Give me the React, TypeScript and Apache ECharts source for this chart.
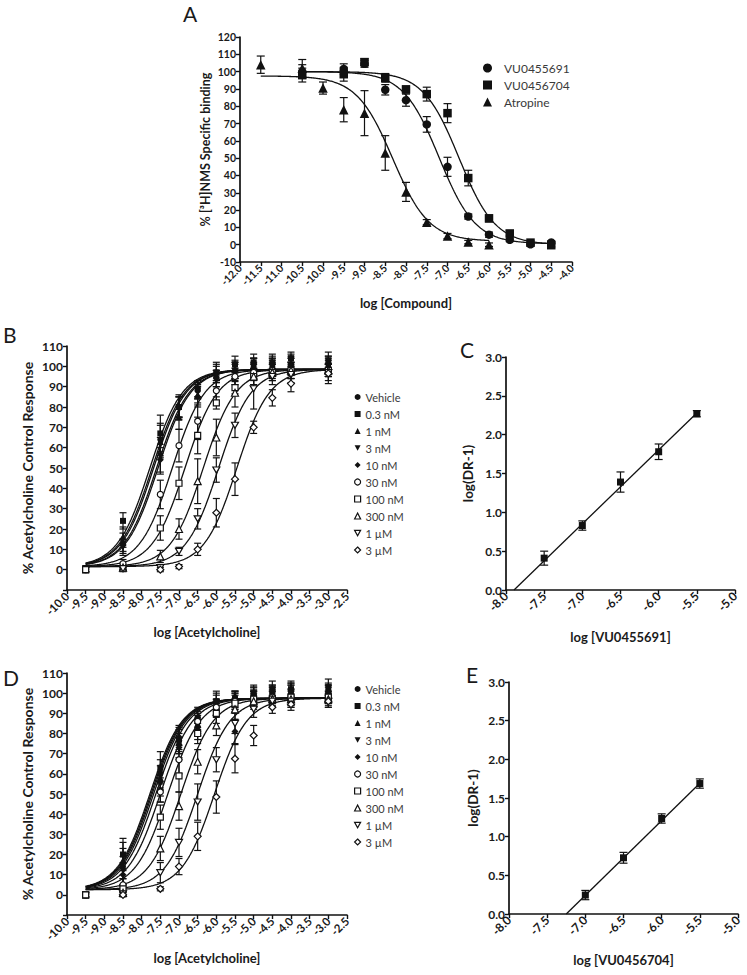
import React, { useEffect, useRef } from 'react';
import * as echarts from 'echarts';

// ---------------- Panel A: [3H]NMS binding ----------------
const aSeriesNames = ['VU0455691', 'VU0456704', 'Atropine'];
const aCompoundX = [-10.5, -9.5, -9.0, -8.5, -8.0, -7.5, -7.0, -6.5, -6.0, -5.5, -5.0, -4.5];
const a691Y = [100, 101.5, 104.5, 89.5, 83.5, 69.5, 45, 16.3, 5.8, 2.8, 0.2, 1.3];
const a691Err = [4, 3, 2, 3, 3.5, 4.5, 5.5, 1.5, 1.5, 1, 1, 1];
const a704Y = [98, 98.5, 105.5, 96.4, 89.7, 87, 76, 38.5, 15.2, 6.5, 1.2, -0.3];
const a704Err = [4, 4, 2, 2.5, 2, 4, 5.5, 4.5, 2, 1.5, 1, 1];
const aAtropineX = [-11.5, -10.5, -10.0, -9.5, -9.0, -8.5, -8.0, -7.5, -7.0, -6.5, -6.0];
const aAtropineY = [104, 102, 90.5, 78, 76, 53, 30.5, 13, 5, 1.5, 0];
const aAtropineErr = [5, 5, 3.5, 7, 13, 10, 5.5, 1.5, 1.5, 1, 1];
// fitted curves: bottom, top, logIC50, hill, range
const aFitBottom = [0.5, 0, 2];
const aFitTop = [100, 100, 97.5];
const aFitLogIC50 = [-7.2, -6.72, -8.32];
const aFitHill = [-1, -1, -1];
const aFitStart = [-10.5, -10.5, -11.5];
const aFitEnd = [-4.5, -4.5, -6.0];

// ---------------- Panels B & D: ACh CRCs ----------------
const concLabels = ['Vehicle', '0.3 nM', '1 nM', '3 nM', '10 nM', '30 nM', '100 nM', '300 nM', '1 µM', '3 µM'];
const xAch = [-9.5, -8.5, -7.5, -7.0, -6.5, -6.0, -5.5, -5.0, -4.5, -4.0, -3.0];

const bResponse = [
  [0.5, 13, 64, 80, 88, 97, 98, 100, 100, 101, 101],
  [0, 24, 67, 80, 89, 97, 101, 102, 102, 104, 103],
  [0, 16, 63, 75, 86, 96, 99, 99, 100, 102, 101],
  [0, 11, 56, 80, 88, 94, 98, 100, 100, 100, 100],
  [0, 12, 54, 80, 85, 94, 97, 98, 99, 100, 99],
  [0, 3, 37, 61, 73, 88, 95, 97, 98, 98, 98],
  [0, 0.5, 20.5, 42.5, 66, 82, 89.5, 95, 97, 98, 98],
  [null, 1, 6.5, 20, 43.5, 65, 87, 95, 97, 98, 98],
  [null, 0.5, 1, 9, 25, 49, 71, 89, 95, 96, 97],
  [null, null, 0, 1.5, 10, 28, 44.5, 70, 84.5, 91.5, 96.5],
];
const bSem = [
  [1.5, 5, 8, 5, 4, 4, 4, 4, 4, 4, 4],
  [1.5, 4, 9, 6, 4, 5, 4, 4, 4, 3, 4],
  [1, 5, 8, 6, 5, 4, 4, 5, 4, 4, 4],
  [1, 4, 9, 5, 4, 4, 4, 4, 5, 4, 4],
  [1, 3, 6, 5, 5, 4, 4, 4, 4, 4, 4],
  [1, 2, 7, 8, 9, 5, 4, 4, 4, 4, 3],
  [1, 1, 6, 8, 9, 3, 3, 4, 4, 4, 3],
  [0, 1, 3, 5, 11, 9, 7, 4, 4, 4, 3],
  [0, 1, 1, 2, 5, 6, 6, 10, 4, 4, 4],
  [0, 0, 1, 1, 3, 7, 8, 3, 4, 4, 5],
];
const bLogEC50 = [-7.72, -7.78, -7.68, -7.6, -7.56, -7.18, -6.84, -6.35, -5.94, -5.45];
const bFitBottom = 1.5;
const bFitTop = 98.5;

const dResponse = [
  [0, 14, 60, 78, 88, 96, 98, 99, 100, 101, 101],
  [0, 20, 63, 77, 87, 96, 97, 100, 102, 102, 103],
  [0, 17, 58, 76, 85, 94, 97, 99, 100, 101, 100],
  [0, 12, 55, 75, 84, 93, 96, 98, 99, 100, 99],
  [0, 10, 52, 73, 82, 92, 81, 97, 99, 100, 100],
  [0, 5, 51, 67, 86, 93, 96, 97, 98, 98, 98],
  [0, 3, 38.5, 59, 80, 90, 95, 97, 97, 98, 98],
  [null, 1, 23, 44, 66, 84, 92, 96, 97, 97, 97],
  [null, 0.5, 11, 26, 46, 67, 85, 92, 96, 96, 96],
  [null, 0, 3, 14, 29, 48.5, 67.5, 79, 93, 94.5, 96],
];
const dSem = [
  [1.5, 9, 7, 6, 5, 4, 3, 4, 4, 4, 4],
  [1.5, 8, 8, 6, 5, 5, 4, 4, 4, 4, 4],
  [1, 9, 6, 6, 5, 5, 4, 4, 4, 4, 4],
  [1, 7, 6, 5, 5, 4, 4, 4, 4, 4, 4],
  [1, 6, 6, 5, 5, 4, 6, 4, 4, 4, 4],
  [1, 3, 5, 7, 5, 4, 4, 4, 4, 4, 3],
  [1, 2, 6, 8, 5, 5, 4, 4, 4, 4, 3],
  [0, 1, 6, 7, 6, 5, 5, 4, 4, 4, 3],
  [0, 1, 5, 7, 9, 6, 5, 4, 3, 3, 3],
  [0, 1, 1, 4, 7, 8, 7, 5, 3, 3, 3],
];
const dLogEC50 = [-7.75, -7.78, -7.72, -7.68, -7.62, -7.5, -7.3, -6.95, -6.5, -6.05];
const dFitBottom = 2.5;
const dFitTop = 97.5;

// ---------------- Panels C & E: Schild plots ----------------
const cX = [-7.5, -7.0, -6.5, -6.0, -5.5];
const cY = [0.41, 0.83, 1.39, 1.78, 2.27];
const cErr = [0.09, 0.06, 0.13, 0.1, 0.04];
const cLineX = [-7.895, -5.5];
const cLineY = [0, 2.28];
const eX = [-7.0, -6.5, -6.0, -5.5];
const eY = [0.245, 0.727, 1.235, 1.687];
const eErr = [0.06, 0.07, 0.06, 0.06];
const eLineX = [-7.25, -5.5];
const eLineY = [0, 1.69];

// ---------------- styling ----------------
const INK = '#111';
const TXT = '#1a1a1a';
const FONT = 'Lato, "Open Sans", sans-serif';
const DOWN_TRI = 'path://M0,0 L10,0 L5,9 Z';
const achSymbols = ['circle', 'rect', 'triangle', DOWN_TRI, 'diamond', 'circle', 'rect', 'triangle', DOWN_TRI, 'diamond'];
const achFilled = [true, true, true, true, true, false, false, false, false, false];
const aSymbols = ['circle', 'rect', 'triangle'];

function sampleFit(bottom: number, top: number, logEC50: number, hill: number, x0: number, x1: number) {
  const pts: number[][] = [];
  const n = Math.round((x1 - x0) / 0.02);
  for (let i = 0; i <= n; i++) {
    const x = x0 + ((x1 - x0) * i) / n;
    pts.push([x, bottom + (top - bottom) / (1 + Math.pow(10, (logEC50 - x) * hill))]);
  }
  return pts;
}

function pairs(xs: number[], ys: (number | null)[]) {
  const out: number[][] = [];
  xs.forEach((x, i) => { if (ys[i] != null) out.push([x, ys[i] as number]); });
  return out;
}
function errRows(xs: number[], ys: (number | null)[], es: number[]) {
  const out: number[][] = [];
  xs.forEach((x, i) => {
    const y = ys[i];
    if (y != null && es[i] > 0) out.push([x, y, y - es[i], y + es[i]]);
  });
  return out;
}

function errSeries(name: string, gi: number, data: number[][], cap: number) {
  return {
    type: 'custom', name, xAxisIndex: gi, yAxisIndex: gi, z: 3, silent: true,
    encode: { x: 0, y: [2, 3] }, data,
    renderItem: (_p: any, api: any) => {
      const x = api.value(0), lo = api.value(2), hi = api.value(3);
      const a = api.coord([x, hi]);
      const b = api.coord([x, lo]);
      const style = { stroke: INK, lineWidth: 1.2, fill: null };
      return {
        type: 'group',
        children: [
          { type: 'line', shape: { x1: a[0], y1: a[1], x2: b[0], y2: b[1] }, style },
          { type: 'line', shape: { x1: a[0] - cap, y1: a[1], x2: a[0] + cap, y2: a[1] }, style },
          { type: 'line', shape: { x1: b[0] - cap, y1: b[1], x2: b[0] + cap, y2: b[1] }, style },
        ],
      };
    },
  };
}

function markSeries(name: string, gi: number, data: number[][], symbol: string, filled: boolean, size: number) {
  return {
    type: 'scatter', name, xAxisIndex: gi, yAxisIndex: gi, z: 5, data, symbol,
    symbolSize: symbol === DOWN_TRI ? [size + 1, size] : symbol === 'triangle' || symbol === 'diamond' ? size + 1 : size,
    silent: true,
    itemStyle: { color: filled ? INK : '#fff', borderColor: INK, borderWidth: filled ? 0 : 1.2, opacity: 1 },
    emphasis: { disabled: true },
  };
}

function lineSeries(name: string, gi: number, data: number[][]) {
  return {
    type: 'line', name, xAxisIndex: gi, yAxisIndex: gi, z: 2, data, showSymbol: false, symbol: 'none',
    silent: true, lineStyle: { color: INK, width: 1.3 }, emphasis: { disabled: true },
  };
}

function axisBase(fontSize: number) {
  return {
    type: 'value',
    axisLine: { show: true, onZero: false, lineStyle: { color: INK, width: 1.7 } },
    axisTick: { show: true, length: 4, lineStyle: { color: INK, width: 1.4 } },
    splitLine: { show: false },
    nameLocation: 'middle',
    nameMoveOverlap: false,
    axisLabel: { color: TXT, fontFamily: FONT, fontWeight: 'bold', fontSize, showMinLabel: true, showMaxLabel: true, hideOverlap: false },
    nameTextStyle: { color: TXT, fontFamily: FONT, fontWeight: 'bold', fontSize: 13 },
  };
}

function xAxisDef(gi: number, min: number, max: number, name: string, gap: number, fontSize: number) {
  const b: any = axisBase(fontSize);
  return {
    ...b, gridIndex: gi, min, max, interval: 0.5, name, nameGap: gap,
    axisLabel: { ...b.axisLabel, rotate: 45, margin: 4, formatter: (v: number) => v.toFixed(1) },
  };
}
function yAxisDef(gi: number, min: number, max: number, interval: number, name: string, gap: number, fontSize: number, fmt: (v: number) => string, nameSize = 13) {
  const b: any = axisBase(fontSize);
  return {
    ...b, gridIndex: gi, min, max, interval, name, nameGap: gap,
    nameTextStyle: { ...b.nameTextStyle, fontSize: nameSize },
    axisLabel: { ...b.axisLabel, margin: 4, formatter: fmt },
  };
}

function legendItems(names: string[], symbols: string[], filled: boolean[]) {
  return names.map((n, i) => ({
    name: n, icon: symbols[i],
    itemStyle: { color: filled[i] ? INK : '#fff', borderColor: INK, borderWidth: filled[i] ? 0 : 1.2 },
  }));
}

function buildOption() {
  const series: any[] = [];
  // A
  const aXs = [aCompoundX, aCompoundX, aAtropineX];
  const aYs = [a691Y, a704Y, aAtropineY];
  const aEs = [a691Err, a704Err, aAtropineErr];
  for (let i = 0; i < 3; i++) {
    series.push(lineSeries('A fit ' + i, 0, sampleFit(aFitBottom[i], aFitTop[i], aFitLogIC50[i], aFitHill[i], aFitStart[i], aFitEnd[i])));
    series.push(errSeries('A err ' + i, 0, errRows(aXs[i], aYs[i], aEs[i]), 4));
    series.push(markSeries(aSeriesNames[i], 0, pairs(aXs[i], aYs[i]), aSymbols[i], true, 8.5));
  }
  // B & D
  const panels = [
    { gi: 1, resp: bResponse, sem: bSem, ec: bLogEC50, bot: bFitBottom, top: bFitTop, tag: 'B' },
    { gi: 3, resp: dResponse, sem: dSem, ec: dLogEC50, bot: dFitBottom, top: dFitTop, tag: 'D' },
  ];
  panels.forEach((p) => {
    for (let i = 0; i < concLabels.length; i++) {
      series.push(lineSeries(p.tag + ' fit ' + i, p.gi, sampleFit(p.bot, p.top, p.ec[i], 1, xAch[0], xAch[xAch.length - 1])));
      series.push(errSeries(p.tag + ' err ' + i, p.gi, errRows(xAch, p.resp[i], p.sem[i]), 3.5));
      series.push(markSeries(concLabels[i], p.gi, pairs(xAch, p.resp[i]), achSymbols[i], achFilled[i], 6));
    }
  });
  // C & E
  series.push(lineSeries('C fit', 2, pairs(cLineX, cLineY)));
  series.push(errSeries('C err', 2, errRows(cX, cY, cErr), 4));
  series.push(markSeries('C pts', 2, pairs(cX, cY), 'rect', true, 7));
  series.push(lineSeries('E fit', 4, pairs(eLineX, eLineY)));
  series.push(errSeries('E err', 4, errRows(eX, eY, eErr), 4));
  series.push(markSeries('E pts', 4, pairs(eX, eY), 'rect', true, 7));

  const intFmt = (v: number) => String(v);
  const achYFmt = (v: number) => (v === -10 ? '' : String(v));
  const decFmt = (v: number) => v.toFixed(1);

  const panelLabel = (t: string, left: number, top: number) => ({
    type: 'text', left, top, silent: true,
    style: { text: t, fill: TXT, font: 'normal 21px ' + FONT },
  });

  const achLegend = (top: number) => ({
    orient: 'vertical', left: 354, top, padding: 0, itemWidth: 6, itemHeight: 6, itemGap: 5, selectedMode: false,
    data: legendItems(concLabels, achSymbols, achFilled),
    textStyle: { fontFamily: FONT, fontSize: 11, color: '#3a3a3a', lineHeight: 12 },
  });

  return {
    animation: false,
    backgroundColor: '#fff',
    grid: [
      { left: 240, top: 37, width: 332, height: 225, outerBoundsMode: 'none', containLabel: false },
      { left: 67, top: 346, width: 280, height: 244, outerBoundsMode: 'none', containLabel: false },
      { left: 506, top: 357, width: 229, height: 233, outerBoundsMode: 'none', containLabel: false },
      { left: 67, top: 673, width: 280, height: 242, outerBoundsMode: 'none', containLabel: false },
      { left: 509, top: 682, width: 229, height: 232, outerBoundsMode: 'none', containLabel: false },
    ],
    xAxis: [
      xAxisDef(0, -12, -4, 'log [Compound]', 34, 10.5),
      xAxisDef(1, -10, -2.5, 'log [Acetylcholine]', 35, 11.5),
      xAxisDef(2, -8, -5, 'log [VU0455691]', 40, 12),
      xAxisDef(3, -10, -2.5, 'log [Acetylcholine]', 36, 11.5),
      xAxisDef(4, -8, -5, 'log [VU0456704]', 39, 12),
    ],
    yAxis: [
      yAxisDef(0, -10, 120, 10, '% [³H]NMS Specific binding', 28, 10.5, intFmt, 12.5),
      yAxisDef(1, -10, 110, 10, '% Acetylcholine Control Response', 33, 12, achYFmt, 14),
      yAxisDef(2, 0, 3, 0.5, 'log(DR-1)', 31, 12, decFmt, 13.5),
      yAxisDef(3, -10, 110, 10, '% Acetylcholine Control Response', 33, 12, achYFmt, 14),
      yAxisDef(4, 0, 3, 0.5, 'log(DR-1)', 29, 12, decFmt, 13.5),
    ],
    legend: [
      {
        orient: 'vertical', left: 483, top: 62, padding: 0, itemWidth: 9, itemHeight: 9, itemGap: 5, selectedMode: false,
        data: legendItems(aSeriesNames, aSymbols, [true, true, true]),
        textStyle: { fontFamily: FONT, fontSize: 12, color: '#3a3a3a', lineHeight: 12, padding: [0, 0, 0, 7] },
      },
      achLegend(391),
      achLegend(683),
    ],
    graphic: [
      panelLabel('A', 183, 3),
      panelLabel('B', 3, 324),
      panelLabel('C', 460, 339),
      panelLabel('D', 3, 667),
      panelLabel('E', 466, 664),
    ],
    series,
  };
}

export default function App() {
  const ref = useRef<HTMLDivElement>(null);
  useEffect(() => {
    const chart = echarts.init(ref.current as HTMLDivElement, null, { renderer: 'svg' });
    chart.setOption(buildOption() as any);
    return () => chart.dispose();
  }, []);
  return (
    <div
      ref={ref}
      style={{ position: 'absolute', left: 0, top: 0, width: 747, height: 975, background: '#fff' }}
    />
  );
}
